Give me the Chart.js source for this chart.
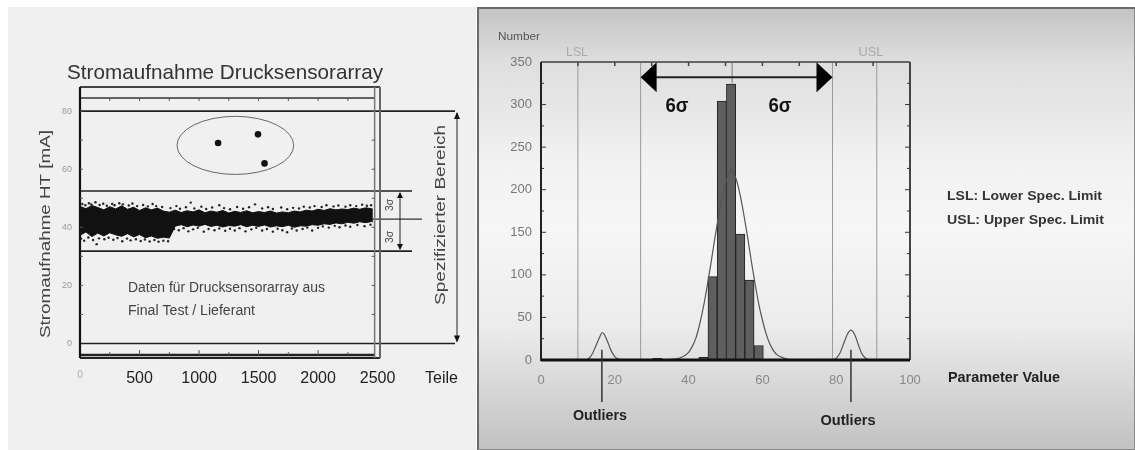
<!DOCTYPE html>
<html><head><meta charset="utf-8">
<script src="https://cdn.jsdelivr.net/npm/chart.js@4.4.1/dist/chart.umd.min.js"></script>
<style>
html,body{margin:0;padding:0;background:#fff;width:1135px;height:450px;overflow:hidden;}
#leftBg{position:absolute;left:8px;top:7px;width:468px;height:443px;background:#f0f0f0;}
#rightBg{position:absolute;left:477px;top:7px;width:658px;height:443px;box-sizing:border-box;border:1px solid #8a8a8a;border-left:2px solid #6a6a6a;border-top:2px solid #6a6a6a;
background:linear-gradient(to bottom,#c4c4c4 0%,#dedede 12%,#f2f2f2 35%,#f6f6f6 50%,#ececec 72%,#c2c2c2 100%);}
#cl{position:absolute;left:8px;top:7px;}
#cr{position:absolute;left:477px;top:7px;}
</style></head>
<body>
<div id="leftBg"></div><div id="rightBg"></div>
<canvas id="cl" width="468" height="443"></canvas>
<canvas id="cr" width="658" height="443"></canvas>
<script>
// ---------- LEFT CHART DATA ----------
const bandX     = [0,50,100,150,200,250,300,350,400,450,500,550,600,650,700,750,800,850,900,950,1000,1050,1100,1150,1200,1250,1300,1350,1400,1450,1500,1550,1600,1650,1700,1750,1800,1850,1900,1950,2000,2050,2100,2150,2200,2250,2300,2350,2400,2450,2460];
const bandUpper = [47.2,46.4,47.5,46.8,46.0,47.1,46.3,47.4,46.2,46.9,45.8,46.7,46.0,46.6,45.6,45.2,45.9,45.1,45.7,45.3,46.0,45.0,45.6,45.2,45.8,44.9,45.5,45.1,45.7,45.0,45.4,45.1,45.6,44.9,45.3,45.0,45.6,45.3,45.9,45.6,46.2,45.8,46.4,46.0,46.3,46.1,46.6,46.2,46.7,46.4,46.2];
const bandLower = [37.2,38.4,36.8,38.0,37.0,38.1,37.4,36.9,37.8,36.7,37.5,36.4,37.0,36.2,36.6,36.3,40.4,40.9,40.2,40.8,40.4,41.0,40.3,40.7,40.1,40.6,40.4,40.9,40.2,40.7,40.3,40.8,40.1,40.5,40.2,40.7,40.0,40.5,40.4,40.9,40.7,41.2,41.0,41.5,41.2,41.7,41.4,41.9,41.6,42.0,41.8];
const strayPoints = [
 [20,48.0],[45,47.6],[75,48.3],[95,47.9],[130,48.6],[165,47.7],[195,48.1],[225,47.4],[270,48.0],[290,47.6],[330,48.3],[360,47.9],[410,47.5],[440,48.2],[480,47.3],[530,47.7],[570,47.2],[610,48.0],[640,47.3],[690,47.0],
 [760,46.6],[810,47.3],[840,46.4],[890,46.9],[930,48.5],[960,46.5],[1020,47.1],[1060,46.3],[1110,46.8],[1170,47.6],[1210,46.6],[1260,46.2],[1320,47.0],[1370,46.4],[1420,46.9],[1470,47.9],[1530,46.5],[1580,46.9],[1620,46.3],[1690,46.8],[1740,46.2],[1790,46.7],[1840,46.5],[1880,47.1],[1930,46.8],[1970,47.3],[2030,47.0],[2070,47.6],[2130,47.2],[2170,47.5],[2230,47.1],[2270,47.6],[2320,47.3],[2370,47.8],[2410,47.4],[2445,47.6],
 [10,36.1],[35,35.4],[70,36.5],[110,35.6],[140,34.2],[160,36.2],[205,35.9],[240,36.4],[280,35.7],[315,36.3],[355,35.2],[395,36.1],[425,35.5],[470,35.9],[510,35.3],[545,35.8],[585,35.1],[625,35.6],[660,35.0],[700,35.4],[740,35.2],
 [790,39.4],[830,39.0],[870,39.7],[910,38.6],[950,39.3],[990,39.8],[1040,38.5],[1080,39.4],[1130,39.0],[1170,39.6],[1220,38.8],[1260,39.5],[1300,38.9],[1340,39.7],[1390,38.6],[1440,39.3],[1480,39.8],[1530,38.9],[1570,39.4],[1620,38.5],[1660,39.5],[1700,39.0],[1740,38.3],[1780,39.6],[1820,38.9],[1870,39.4],[1910,39.9],[1950,38.9],[2000,39.8],[2040,40.3],[2090,39.9],[2140,40.5],[2180,40.0],[2230,40.6],[2270,40.2],[2330,40.8],[2390,40.4],[2440,40.9]
];
const outlierX = [1160,1495,1550];
const outlierY = [69,72,62];
const leftXTicks = [0,500,1000,1500,2000,2500];
const leftYTicks = [0,20,40,60,80];
const specLimits = [0,80];
const sigmaLimits = [31.8,52.5];
const meanValue = 42.8;

// ---------- RIGHT CHART DATA ----------
const binCenters = [9,31.5,44,46.5,49,51.5,54,56.5,59,76.5];
const binCounts  = [1,2,3,98,304,324,148,94,17,1];
const fitX = [8,12,13,14,15,16,16.5,17,18,19,20,21,22,30,34,36,38,40,41,42,43,44,45,46,47,48,49,50,51,51.5,52,53,54,55,56,57,58,59,60,61,62,63,64,66,68,79,80,81,82,83,84,85,86,87,88,89,92];
const fitY = [0,0,2,8,18,28,32,31,22,11,4,1,0,0,0.5,1,3,9,16,26,42,62,86,112,140,166,190,208,219,223,221,211,193,170,144,116,90,66,47,31,19,11,6,2,0,0,2,8,19,30,35,30,18,7,2,0,0];
const rightXTicks = [0,20,40,60,80,100];
const rightYTicks = [0,50,100,150,200,250,300,350];
const specLines = [10,91];
const sigmaLines = [27,79];
const centerValue = 51.8;
const arrowLevel = 332;
const outlierPeaks = [16.5,84];

const FONT = "'Liberation Sans', Arial, sans-serif";
Chart.defaults.font.family = FONT;

function hLine(ctx,x1,x2,y,w,c){ctx.save();ctx.beginPath();ctx.lineWidth=w;ctx.strokeStyle=c;ctx.moveTo(x1,y);ctx.lineTo(x2,y);ctx.stroke();ctx.restore();}
function vLine(ctx,x,y1,y2,w,c){ctx.save();ctx.beginPath();ctx.lineWidth=w;ctx.strokeStyle=c;ctx.moveTo(x,y1);ctx.lineTo(x,y2);ctx.stroke();ctx.restore();}
function tri(ctx,x,y,dir,len,half,c){
  ctx.save();ctx.beginPath();ctx.fillStyle=c;
  if(dir==='up'){ctx.moveTo(x,y);ctx.lineTo(x-half,y+len);ctx.lineTo(x+half,y+len);}
  else if(dir==='down'){ctx.moveTo(x,y);ctx.lineTo(x-half,y-len);ctx.lineTo(x+half,y-len);}
  else if(dir==='left'){ctx.moveTo(x,y);ctx.lineTo(x+len,y-half);ctx.lineTo(x+len,y+half);}
  else {ctx.moveTo(x,y);ctx.lineTo(x-len,y-half);ctx.lineTo(x-len,y+half);}
  ctx.closePath();ctx.fill();ctx.restore();
}
function txt(ctx,str,x,y,width,size,weight,color,rot,align){
  ctx.save();
  ctx.font = weight+' '+size+'px '+FONT;
  const m = ctx.measureText(str).width;
  ctx.translate(x,y);
  if(rot) ctx.rotate(rot);
  ctx.scale(width/m,1);
  ctx.textAlign = align||'center';
  ctx.textBaseline='middle';
  ctx.fillStyle=color;
  ctx.fillText(str,0,0);
  ctx.restore();
}

// ---------- LEFT CHART ----------
const OL = {x:8,y:7};
const leftDecor = {
  id:'leftDecor',
  beforeDatasetsDraw(chart){
    const {ctx, chartArea:a, scales:{x,y}} = chart;
    specLimits.forEach(v=>hLine(ctx,a.left,455-OL.x,y.getPixelForValue(v),1.6,'#222'));
    sigmaLimits.forEach(v=>hLine(ctx,a.left,412-OL.x,y.getPixelForValue(v),1.6,'#222'));
    hLine(ctx,a.left,422-OL.x,y.getPixelForValue(meanValue),1.2,'#333');
  },
  afterDatasetsDraw(chart){
    const {ctx, chartArea:a, scales:{x,y}} = chart;
    const cx=x.getPixelForValue(1305), cy=y.getPixelForValue(68.2);
    const rx=Math.abs(x.getPixelForValue(1305+490)-cx), ry=Math.abs(y.getPixelForValue(68.2+10)-cy);
    ctx.save();ctx.beginPath();ctx.strokeStyle='#666';ctx.lineWidth=1;ctx.ellipse(cx,cy,rx,ry,0,0,Math.PI*2);ctx.stroke();ctx.restore();
    const yTopIn=y.getPixelForValue(84.5), yBotIn=y.getPixelForValue(-4), xRightIn=x.getPixelForValue(2475);
    hLine(ctx,a.left,a.right,a.top,2,'#444');
    hLine(ctx,a.left,xRightIn,yTopIn,1.6,'#333');
    hLine(ctx,a.left,a.right,a.bottom,2,'#222');
    hLine(ctx,a.left,xRightIn,yBotIn,2.5,'#222');
    vLine(ctx,a.left,a.top,a.bottom,2.2,'#111');
    vLine(ctx,a.right,a.top,a.bottom,2,'#666');
    vLine(ctx,xRightIn,a.top,a.bottom,1.5,'#777');
    for(let v=10; v<=80; v+=10){
      const py=y.getPixelForValue(v);
      hLine(ctx,a.left,a.left+3,py,1,'#555');
      hLine(ctx,xRightIn-3,xRightIn,py,1,'#555');
    }
    for(let v=250; v<2500; v+=250){
      const px=x.getPixelForValue(v);
      vLine(ctx,px,yTopIn,yTopIn+3,1,'#555');
      vLine(ctx,px,yBotIn,yBotIn-(v%500===0?5:3),1,'#555');
    }
    const xs=457-OL.x, y80=y.getPixelForValue(specLimits[1]), y0=y.getPixelForValue(specLimits[0]);
    vLine(ctx,xs,y80+2,y0-2,2,'#888');
    tri(ctx,xs,y80+1,'up',7,3,'#111');
    tri(ctx,xs,y0-1,'down',7,3,'#111');
    const xa=400-OL.x, yu=y.getPixelForValue(sigmaLimits[1]), yl=y.getPixelForValue(sigmaLimits[0]);
    vLine(ctx,xa,yu+2,yl-2,1,'#222');
    tri(ctx,xa,yu+1,'up',6,3,'#111');
    tri(ctx,xa,yl-1,'down',6,3,'#111');
    txt(ctx,'3σ',390-OL.x,205-OL.y,12,11,'normal','#444',-Math.PI/2);
    txt(ctx,'3σ',390-OL.x,237-OL.y,12,11,'normal','#444',-Math.PI/2);
    txt(ctx,'Stromaufnahme Drucksensorarray',225-OL.x,73-OL.y,316,21,'normal','#333');
    txt(ctx,'Stromaufnahme HT [mA]',46-OL.x,234-OL.y,208,15,'normal','#444',-Math.PI/2);
    txt(ctx,'Spezifizierter Bereich',441-OL.x,215-OL.y,180,15,'normal','#444',-Math.PI/2);
    txt(ctx,'Daten für Drucksensorarray aus',128-OL.x,288-OL.y,197,14,'normal','#444',0,'left');
    txt(ctx,'Final Test / Lieferant',128-OL.x,311-OL.y,127,14,'normal','#444',0,'left');
    txt(ctx,'Teile',425-OL.x,378-OL.y,33,17,'normal','#222',0,'left');
  }
};

new Chart(document.getElementById('cl'),{
  type:'scatter',
  data:{datasets:[
    {type:'line',data:bandX.map((v,i)=>({x:v,y:bandUpper[i]})),borderColor:'#111',borderWidth:1,pointRadius:0,fill:'+1',backgroundColor:'#111',tension:0},
    {type:'line',data:bandX.map((v,i)=>({x:v,y:bandLower[i]})),borderColor:'#111',borderWidth:1,pointRadius:0,fill:false,tension:0},
    {data:strayPoints.map(p=>({x:p[0],y:p[1]})),pointRadius:1.2,backgroundColor:'#222',borderWidth:0},
    {data:outlierX.map((v,i)=>({x:v,y:outlierY[i]})),pointRadius:3.3,backgroundColor:'#111',borderWidth:0}
  ]},
  options:{
    responsive:false,animation:false,events:[],devicePixelRatio:1,
    layout:{padding:{left:0,top:80,right:96,bottom:0}},
    plugins:{legend:{display:false},tooltip:{enabled:false}},
    scales:{
      x:{type:'linear',min:0,max:2520,grid:{display:false,drawTicks:false},border:{display:false},
         afterBuildTicks:s=>{s.ticks=leftXTicks.map(v=>({value:v}));},
         afterFit:s=>{s.height=92;},
         ticks:{padding:11,maxRotation:0,autoSkip:false,callback:v=>String(v),
           font:c=>(c.tick&&c.tick.value===0)?{size:10}:{size:16},
           color:c=>(c.tick&&c.tick.value===0)?'#aaa':'#222'}},
      y:{type:'linear',min:-5,max:88.3,grid:{display:false,drawTicks:false},border:{display:false},
         afterBuildTicks:s=>{s.ticks=leftYTicks.map(v=>({value:v}));},
         afterFit:s=>{s.width=72;},
         ticks:{padding:8,font:{size:9},color:'#999',callback:v=>String(v)}}
    }
  },
  plugins:[leftDecor]
});

// ---------- RIGHT CHART ----------
const OR = {x:477,y:7};
const rightDecor = {
  id:'rightDecor',
  beforeDatasetsDraw(chart){
    const {ctx, chartArea:a, scales:{x,y}} = chart;
    specLines.concat(sigmaLines).forEach(v=>vLine(ctx,x.getPixelForValue(v),a.top,a.bottom,1,'#9a9a9a'));
    vLine(ctx,x.getPixelForValue(centerValue),a.top,y.getPixelForValue(325),1.5,'#9a9a9a');
  },
  afterDatasetsDraw(chart){
    const {ctx, chartArea:a, scales:{x,y}} = chart;
    hLine(ctx,a.left,a.right,a.top,2,'#666');
    vLine(ctx,a.right,a.top,a.bottom,2,'#444');
    vLine(ctx,a.left,a.top,a.bottom+1,2,'#222');
    hLine(ctx,a.left,a.right,a.bottom,3,'#111');
    for(let v=25; v<350; v+=25){
      const py=y.getPixelForValue(v);
      hLine(ctx,a.left,a.left+(v%50===0?5:3),py,1,'#333');
      hLine(ctx,a.right-(v%50===0?5:3),a.right,py,1,'#333');
    }
    for(let v=10; v<100; v+=10){
      const px=x.getPixelForValue(v);
      vLine(ctx,px,a.top,a.top+4,1.5,'#444');
    }
    const ya=y.getPixelForValue(arrowLevel);
    const xl=x.getPixelForValue(sigmaLines[0]), xr=x.getPixelForValue(sigmaLines[1]);
    hLine(ctx,xl+8,xr-8,ya,2,'#222');
    tri(ctx,xl,ya,'left',16,15,'#000');
    tri(ctx,xr,ya,'right',16,15,'#000');
    txt(ctx,'6σ',677-OR.x,106-OR.y,23,20,'bold','#111');
    txt(ctx,'6σ',780-OR.x,106-OR.y,23,20,'bold','#111');
    txt(ctx,'Number',498-OR.x,37-OR.y,42,11,'normal','#555',0,'left');
    txt(ctx,'LSL',577-OR.x,52-OR.y,22,13,'normal','#aaa');
    txt(ctx,'USL',871-OR.x,52-OR.y,25,13,'normal','#aaa');
    txt(ctx,'LSL: Lower Spec. Limit',947-OR.x,196-OR.y,155,13,'bold','#333',0,'left');
    txt(ctx,'USL: Upper Spec. Limit',947-OR.x,220-OR.y,157,13,'bold','#333',0,'left');
    txt(ctx,'Parameter Value',948-OR.x,378-OR.y,112,14,'bold','#222',0,'left');
    outlierPeaks.forEach(v=>vLine(ctx,x.getPixelForValue(v),y.getPixelForValue(12),402-OR.y,1.5,'#333'));
    txt(ctx,'Outliers',600-OR.x,416-OR.y,54,15,'bold','#222');
    txt(ctx,'Outliers',848-OR.x,421-OR.y,55,15,'bold','#222');
  }
};

new Chart(document.getElementById('cr'),{
  type:'bar',
  data:{datasets:[
    {type:'bar',data:binCenters.map((v,i)=>({x:v,y:binCounts[i]})),backgroundColor:'#5e5e5e',borderColor:'#222',borderWidth:1,barPercentage:1,categoryPercentage:1,order:2},
    {type:'line',data:fitX.map((v,i)=>({x:v,y:fitY[i]})),borderColor:'#555',borderWidth:1.2,pointRadius:0,fill:false,cubicInterpolationMode:'monotone',order:1}
  ]},
  options:{
    responsive:false,animation:false,events:[],devicePixelRatio:1,
    layout:{padding:{left:0,top:55,right:225,bottom:0}},
    plugins:{legend:{display:false},tooltip:{enabled:false}},
    scales:{
      x:{type:'linear',min:0,max:100,offset:false,grid:{display:false,drawTicks:false},border:{display:false},
         afterBuildTicks:s=>{s.ticks=rightXTicks.map(v=>({value:v}));},
         afterFit:s=>{s.height=90;},
         ticks:{padding:13,maxRotation:0,autoSkip:false,font:{size:13},color:'#888'}},
      y:{type:'linear',min:0,max:350,grid:{display:false,drawTicks:false},border:{display:false},
         afterBuildTicks:s=>{s.ticks=rightYTicks.map(v=>({value:v}));},
         afterFit:s=>{s.width=64;},
         ticks:{padding:9,font:{size:13},color:'#777'}}
    }
  },
  plugins:[rightDecor]
});
</script>
</body></html>
